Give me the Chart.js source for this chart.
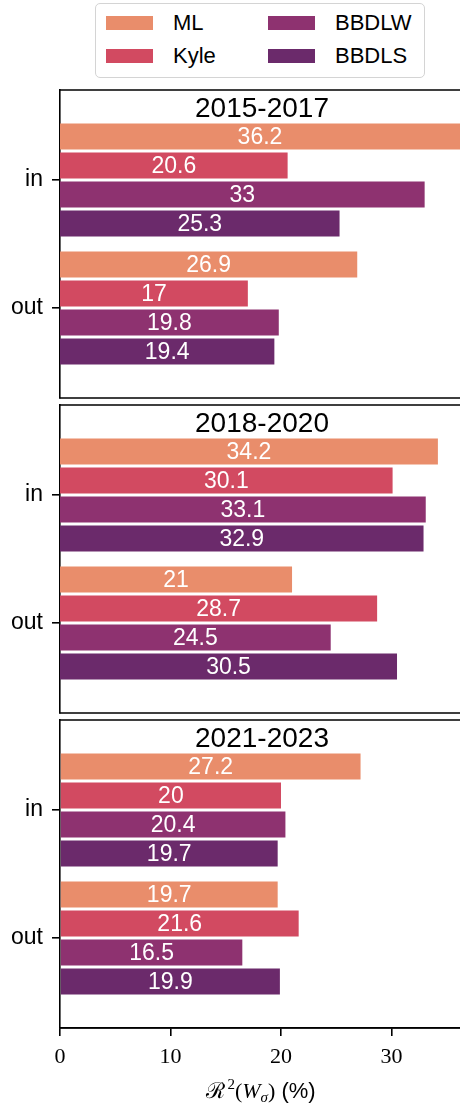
<!DOCTYPE html>
<html>
<head>
<meta charset="utf-8">
<script src="https://cdn.jsdelivr.net/npm/chart.js@4/dist/chart.umd.min.js"></script>
<style>
    body { margin: 0; background: #fff; }
    #wrap { position: relative; width: 460px; height: 1106px; overflow: hidden; font-family: 'Liberation Sans', Arial, sans-serif; }
    .panel { position: absolute; left: 0; }
    #legend {
        position: absolute; left: 95px; top: 3px; width: 330px; height: 75px;
        border: 1.5px solid #d4d4d4; border-radius: 5px; box-sizing: border-box;
    }
    .item { position: absolute; height: 26px; line-height: 26px; font-size: 22px; color: #000; }
    .item span { display: inline-block; width: 47px; height: 14px; vertical-align: middle; margin-right: 20px; margin-top: -3px; }
</style>
</head>
<body>
<div id="wrap">
    <div id="legend"></div>
    <canvas id="panel0" class="panel"></canvas>
    <canvas id="panel1" class="panel"></canvas>
    <canvas id="panel2" class="panel"></canvas>
</div>
<script>
// data, one [in, out] pair per period
const periods = ['2015-2017', '2018-2020', '2021-2023'];
const groups = ['in', 'out'];
const seriesNames = ['ML', 'Kyle', 'BBDLW', 'BBDLS'];
const seriesColors = ['#e98d6b', '#d24a61', '#8e3270', '#6b2a6b'];
const mlValues    = [[36.2, 26.9], [34.2, 21], [27.2, 19.7]];
const kyleValues  = [[20.6, 17], [30.1, 28.7], [20, 21.6]];
const bbdlwValues = [[33, 19.8], [33.1, 24.5], [20.4, 16.5]];
const bbdlsValues = [[25.3, 19.4], [32.9, 30.5], [19.7, 19.9]];
const xTicks = [0, 10, 20, 30];

const allSeries = [mlValues, kyleValues, bbdlwValues, bbdlsValues];
const panelTops = [90, 405, 720];
const panelHeight = 308;

document.addEventListener('DOMContentLoaded', function() {
    // Legend (two columns, column-major like matplotlib)
    const legend = document.getElementById('legend');
    seriesNames.forEach(function(name, i) {
        const col = Math.floor(i / 2), row = i % 2;
        const el = document.createElement('div');
        el.className = 'item';
        el.style.left = (10 + col * 162) + 'px';
        el.style.top = (6 + row * 33) + 'px';
        el.innerHTML = '<span style="background:' + seriesColors[i] + '"></span>' + name;
        legend.appendChild(el);
    });

    // Frame, in-panel title and value labels
    const panelDecor = {
        id: 'panelDecor',
        afterDatasetsDraw: function(chart, args, opts) {
            const ctx = chart.ctx;
            const area = chart.chartArea;
            ctx.save();
            ctx.fillStyle = '#fff';
            ctx.font = '23px "Liberation Sans", Arial, sans-serif';
            ctx.textAlign = 'center';
            ctx.textBaseline = 'alphabetic';
            chart.data.datasets.forEach(function(ds, di) {
                chart.getDatasetMeta(di).data.forEach(function(bar, i) {
                    ctx.fillText(String(ds.data[i].x), (bar.x + bar.base) / 2, bar.y + 7.5);
                });
            });
            ctx.fillStyle = '#000';
            ctx.font = '28px "Liberation Sans", Arial, sans-serif';
            ctx.fillText(opts.title, (area.left + area.right) / 2 + 2, area.top + 26.5);
            ctx.strokeStyle = '#000';
            ctx.lineWidth = 1.6;
            ctx.beginPath();
            ctx.moveTo(area.left - 0.8, area.top);
            ctx.lineTo(area.right + 2, area.top);
            ctx.moveTo(area.left - 0.8, area.bottom);
            ctx.lineTo(area.right + 2, area.bottom);
            ctx.stroke();
            ctx.restore();
        }
    };

    // x axis title R^2(W_sigma) (%) drawn piece by piece
    const axisTitle = {
        id: 'axisTitle',
        afterDraw: function(chart) {
            const ctx = chart.ctx;
            const area = chart.chartArea;
            const pieces = [
                { t: '\u211B', f: '22px "DejaVu Serif", serif', dy: 0 },
                { t: '2', f: '15px "Liberation Serif", serif', dy: -9 },
                { t: '(', f: '22px "Liberation Serif", serif', dy: 0 },
                { t: 'W', f: 'italic 22px "Liberation Serif", serif', dy: 0 },
                { t: '\u03C3', f: 'italic 15px "Liberation Serif", serif', dy: 4 },
                { t: ')', f: '22px "Liberation Serif", serif', dy: 0 },
                { t: ' (%)', f: '22px "Liberation Sans", Arial, sans-serif', dy: 0 }
            ];
            ctx.save();
            ctx.fillStyle = '#000';
            ctx.textBaseline = 'alphabetic';
            ctx.textAlign = 'left';
            let total = 0;
            pieces.forEach(function(p) { ctx.font = p.f; p.w = ctx.measureText(p.t).width + (p.t === '2' ? 2 : 0); total += p.w; });
            let x = 261 - total / 2;
            const y = area.bottom + 70;
            pieces.forEach(function(p) {
                ctx.font = p.f;
                ctx.fillText(p.t, x + (p.t === '2' ? 2 : 0), y + p.dy);
                x += p.w;
            });
            ctx.restore();
        }
    };

    periods.forEach(function(period, p) {
        const last = p === periods.length - 1;
        const canvas = document.getElementById('panel' + p);
        const h = last ? 1106 - (panelTops[p] - 4) : panelHeight + 8;
        canvas.width = 460;
        canvas.height = h;
        canvas.style.width = '460px';
        canvas.style.height = h + 'px';
        canvas.style.top = (panelTops[p] - 4) + 'px';

        new Chart(canvas.getContext('2d'), {
            type: 'bar',
            data: {
                datasets: seriesNames.map(function(name, s) {
                    return {
                        label: name,
                        data: groups.map(function(g, i) { return { x: allSeries[s][p][i], y: i }; }),
                        backgroundColor: seriesColors[s],
                        borderWidth: 0,
                        categoryPercentage: 0.906,
                        barPercentage: 0.9
                    };
                })
            },
            options: {
                indexAxis: 'y',
                responsive: false,
                animation: false,
                layout: { padding: { top: 4, bottom: last ? 0 : 4, left: 0, right: 0 } },
                plugins: {
                    legend: { display: false },
                    tooltip: { enabled: false },
                    panelDecor: { title: period }
                },
                scales: {
                    y: {
                        type: 'linear',
                        reverse: true,
                        offset: false,
                        min: -0.703,
                        max: 1.703,
                        afterBuildTicks: function(scale) {
                            scale.ticks = groups.map(function(g, i) { return { value: i }; });
                        },
                        afterFit: function(scale) {
                            scale.width = 60;
                            scale.paddingTop = 0;
                            scale.paddingBottom = 0;
                        },
                        ticks: {
                            callback: function(value) { return groups[value]; },
                            color: '#000',
                            padding: 9,
                            font: { family: "'Liberation Sans', Arial, sans-serif", size: 23 }
                        },
                        grid: { offset: false, drawOnChartArea: false, color: '#000', lineWidth: 1.6, tickLength: 8 },
                        border: { display: true, color: '#000', width: 1.6 }
                    },
                    x: {
                        type: 'linear',
                        display: last,
                        min: 0,
                        max: 36.2,
                        afterBuildTicks: function(scale) {
                            scale.ticks = xTicks.map(function(v) { return { value: v }; });
                        },
                        afterFit: function(scale) {
                            scale.height = last ? 78 : 0;
                            scale.paddingLeft = 0;
                            scale.paddingRight = 0;
                        },
                        ticks: {
                            color: '#000',
                            padding: 8,
                            maxRotation: 0,
                            font: { family: "'Liberation Serif', serif", size: 22 }
                        },
                        grid: { drawOnChartArea: false, color: '#000', lineWidth: 1.6, tickLength: 8 },
                        border: { display: true, color: '#000', width: 1.6 }
                    }
                }
            },
            plugins: last ? [panelDecor, axisTitle] : [panelDecor]
        });
    });
});
</script>
</body>
</html>
